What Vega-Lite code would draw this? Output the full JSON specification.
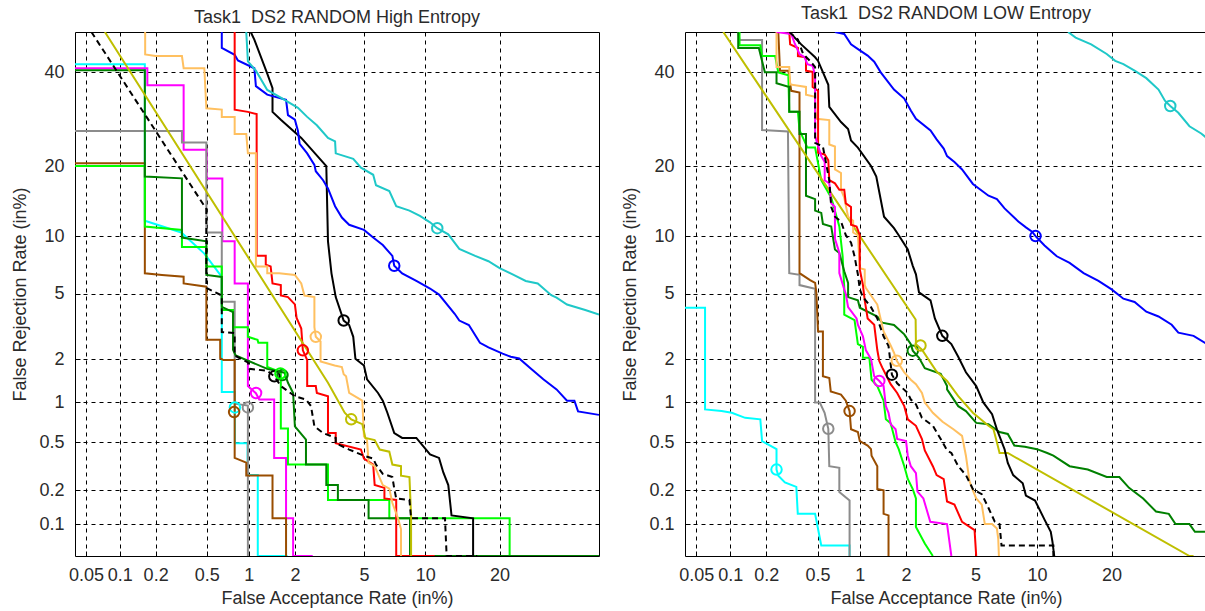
{
"$schema": "https://vega.github.io/schema/vega-lite/v6.json",
"padding": {"left": 11, "top": 4, "right": 0, "bottom": 0},
"spacing": 21,
"config": {
  "view": {"stroke": "black", "strokeWidth": 1},
  "font": "Liberation Sans",
  "axis": {"grid": true, "gridColor": "black", "gridDash": [4, 4], "gridOpacity": 1, "gridWidth": 1, "domain": false, "ticks": true, "tickSize": -5, "tickColor": "black", "tickWidth": 1, "labelFont": "Liberation Sans", "labelFontSize": 18, "labelColor": "#2b2b2b", "titleFont": "Liberation Sans", "titleFontSize": 18, "titleFontWeight": "normal", "titleColor": "#2b2b2b", "labelOverlap": false, "labelFlush": false, "labelBound": false},
  "axisX": {"labelPadding": 15, "titlePadding": 5},
  "axisY": {"labelPadding": 16, "titlePadding": 9},
  "title": {"font": "Liberation Sans", "fontSize": 18, "fontWeight": "normal", "color": "#2b2b2b", "frame": "group"}
},
"datasets": {"d": [
{"p":"L","s":"cyan","x":0.03,"y":42},{"p":"L","s":"cyan","x":0.163,"y":42},{"p":"L","s":"cyan","x":0.163,"y":11.8},{"p":"L","s":"cyan","x":0.32,"y":10.4},{"p":"L","s":"cyan","x":0.48,"y":8.2},{"p":"L","s":"cyan","x":0.645,"y":6.2},{"p":"L","s":"cyan","x":0.645,"y":1.19},{"p":"L","s":"cyan","x":0.8,"y":1.19},{"p":"L","s":"cyan","x":0.8,"y":0.49},{"p":"L","s":"cyan","x":0.98,"y":0.49},{"p":"L","s":"cyan","x":0.98,"y":0.27},{"p":"L","s":"cyan","x":1.15,"y":0.27},{"p":"L","s":"cyan","x":1.15,"y":0.01},{"p":"L","s":"cyan","x":1.8,"y":0.01},
{"p":"L","s":"magenta","x":0.03,"y":41},{"p":"L","s":"magenta","x":0.171,"y":41},{"p":"L","s":"magenta","x":0.171,"y":36.9},{"p":"L","s":"magenta","x":0.334,"y":36.9},{"p":"L","s":"magenta","x":0.334,"y":23},{"p":"L","s":"magenta","x":0.5,"y":23},{"p":"L","s":"magenta","x":0.5,"y":17.9},{"p":"L","s":"magenta","x":0.651,"y":17.9},{"p":"L","s":"magenta","x":0.651,"y":9.43},{"p":"L","s":"magenta","x":0.797,"y":9.43},{"p":"L","s":"magenta","x":0.797,"y":5.72},{"p":"L","s":"magenta","x":0.985,"y":5.72},{"p":"L","s":"magenta","x":0.985,"y":1.31},{"p":"L","s":"magenta","x":1.117,"y":1.165},{"p":"L","s":"magenta","x":1.176,"y":1.05},{"p":"L","s":"magenta","x":1.476,"y":1.05},{"p":"L","s":"magenta","x":1.476,"y":0.374},{"p":"L","s":"magenta","x":1.76,"y":0.374},{"p":"L","s":"magenta","x":1.76,"y":0.113},{"p":"L","s":"magenta","x":1.95,"y":0.113},{"p":"L","s":"magenta","x":1.95,"y":0.01},{"p":"L","s":"magenta","x":2.57,"y":0.01},
{"p":"L","s":"gray","x":0.03,"y":26.7},{"p":"L","s":"gray","x":0.324,"y":26.7},{"p":"L","s":"gray","x":0.324,"y":24.4},{"p":"L","s":"gray","x":0.497,"y":24.4},{"p":"L","s":"gray","x":0.497,"y":10.4},{"p":"L","s":"gray","x":0.645,"y":10.4},{"p":"L","s":"gray","x":0.645,"y":4.52},{"p":"L","s":"gray","x":0.797,"y":4.52},{"p":"L","s":"gray","x":0.797,"y":0.98},{"p":"L","s":"gray","x":0.985,"y":0.95},{"p":"L","s":"gray","x":0.985,"y":0.01},
{"p":"L","s":"brown","x":0.03,"y":20.5},{"p":"L","s":"brown","x":0.163,"y":20.5},{"p":"L","s":"brown","x":0.163,"y":6.48},{"p":"L","s":"brown","x":0.225,"y":6.36},{"p":"L","s":"brown","x":0.334,"y":6.22},{"p":"L","s":"brown","x":0.334,"y":5.72},{"p":"L","s":"brown","x":0.497,"y":5.49},{"p":"L","s":"brown","x":0.497,"y":2.66},{"p":"L","s":"brown","x":0.628,"y":2.66},{"p":"L","s":"brown","x":0.628,"y":2.03},{"p":"L","s":"brown","x":0.662,"y":1.97},{"p":"L","s":"brown","x":0.797,"y":1.97},{"p":"L","s":"brown","x":0.797,"y":0.374},{"p":"L","s":"brown","x":0.96,"y":0.342},{"p":"L","s":"brown","x":0.96,"y":0.267},{"p":"L","s":"brown","x":1.44,"y":0.267},{"p":"L","s":"brown","x":1.44,"y":0.113},{"p":"L","s":"brown","x":1.76,"y":0.113},{"p":"L","s":"brown","x":1.76,"y":0.01},
{"p":"L","s":"green","x":0.03,"y":20},{"p":"L","s":"green","x":0.163,"y":20},{"p":"L","s":"green","x":0.163,"y":11.1},{"p":"L","s":"green","x":0.324,"y":10.7},{"p":"L","s":"green","x":0.324,"y":8.86},{"p":"L","s":"green","x":0.497,"y":8.86},{"p":"L","s":"green","x":0.497,"y":7.05},{"p":"L","s":"green","x":0.645,"y":7.05},{"p":"L","s":"green","x":0.645,"y":4.04},{"p":"L","s":"green","x":0.776,"y":4.04},{"p":"L","s":"green","x":0.776,"y":3.19},{"p":"L","s":"green","x":0.985,"y":3.19},{"p":"L","s":"green","x":0.985,"y":2.78},{"p":"L","s":"green","x":1.146,"y":2.66},{"p":"L","s":"green","x":1.16,"y":2.55},{"p":"L","s":"green","x":1.33,"y":2.55},{"p":"L","s":"green","x":1.33,"y":1.77},{"p":"L","s":"green","x":1.63,"y":1.63},{"p":"L","s":"green","x":1.63,"y":0.64},{"p":"L","s":"green","x":1.81,"y":0.64},{"p":"L","s":"green","x":1.81,"y":0.33},{"p":"L","s":"green","x":3.16,"y":0.33},{"p":"L","s":"green","x":3.16,"y":0.165},{"p":"L","s":"green","x":6.75,"y":0.165},{"p":"L","s":"green","x":6.75,"y":0.113},{"p":"L","s":"green","x":21.7,"y":0.113},{"p":"L","s":"green","x":21.7,"y":0.01},{"p":"L","s":"green","x":40,"y":0.01},
{"p":"L","s":"dkgreen","x":0.03,"y":40.5},{"p":"L","s":"dkgreen","x":0.163,"y":40.5},{"p":"L","s":"dkgreen","x":0.163,"y":18.2},{"p":"L","s":"dkgreen","x":0.324,"y":17.9},{"p":"L","s":"dkgreen","x":0.324,"y":9.84},{"p":"L","s":"dkgreen","x":0.497,"y":9.43},{"p":"L","s":"dkgreen","x":0.497,"y":6.36},{"p":"L","s":"dkgreen","x":0.645,"y":6.2},{"p":"L","s":"dkgreen","x":0.645,"y":4.22},{"p":"L","s":"dkgreen","x":0.776,"y":3.93},{"p":"L","s":"dkgreen","x":0.776,"y":2.3},{"p":"L","s":"dkgreen","x":0.81,"y":2.11},{"p":"L","s":"dkgreen","x":1.33,"y":1.72},{"p":"L","s":"dkgreen","x":1.72,"y":1.62},{"p":"L","s":"dkgreen","x":1.81,"y":1.38},{"p":"L","s":"dkgreen","x":1.95,"y":1.17},{"p":"L","s":"dkgreen","x":2.0,"y":0.663},{"p":"L","s":"dkgreen","x":2.34,"y":0.524},{"p":"L","s":"dkgreen","x":2.34,"y":0.33},{"p":"L","s":"dkgreen","x":3.09,"y":0.33},{"p":"L","s":"dkgreen","x":3.09,"y":0.222},{"p":"L","s":"dkgreen","x":3.6,"y":0.222},{"p":"L","s":"dkgreen","x":3.6,"y":0.165},{"p":"L","s":"dkgreen","x":5.29,"y":0.165},{"p":"L","s":"dkgreen","x":5.29,"y":0.113},{"p":"L","s":"dkgreen","x":8.5,"y":0.113},{"p":"L","s":"dkgreen","x":8.5,"y":0.01},{"p":"L","s":"dkgreen","x":40,"y":0.01},
{"p":"L","s":"dash","x":0.056,"y":50.5},{"p":"L","s":"dash","x":0.497,"y":13.3},{"p":"L","s":"dash","x":0.497,"y":5.4},{"p":"L","s":"dash","x":0.58,"y":5.1},{"p":"L","s":"dash","x":0.645,"y":4.9},{"p":"L","s":"dash","x":0.645,"y":2.98},{"p":"L","s":"dash","x":0.797,"y":2.93},{"p":"L","s":"dash","x":0.797,"y":2.11},{"p":"L","s":"dash","x":0.985,"y":1.9},{"p":"L","s":"dash","x":1.01,"y":1.72},{"p":"L","s":"dash","x":1.33,"y":1.67},{"p":"L","s":"dash","x":1.48,"y":1.53},{"p":"L","s":"dash","x":1.63,"y":1.31},{"p":"L","s":"dash","x":2.0,"y":1.11},{"p":"L","s":"dash","x":2.34,"y":1.05},{"p":"L","s":"dash","x":2.51,"y":0.94},{"p":"L","s":"dash","x":2.63,"y":0.663},{"p":"L","s":"dash","x":2.96,"y":0.59},{"p":"L","s":"dash","x":3.5,"y":0.54},{"p":"L","s":"dash","x":3.5,"y":0.49},{"p":"L","s":"dash","x":4.16,"y":0.437},{"p":"L","s":"dash","x":5.0,"y":0.39},{"p":"L","s":"dash","x":5.59,"y":0.37},{"p":"L","s":"dash","x":5.78,"y":0.33},{"p":"L","s":"dash","x":6.26,"y":0.276},{"p":"L","s":"dash","x":6.99,"y":0.26},{"p":"L","s":"dash","x":7.14,"y":0.207},{"p":"L","s":"dash","x":7.3,"y":0.17},{"p":"L","s":"dash","x":8.45,"y":0.165},{"p":"L","s":"dash","x":8.6,"y":0.113},{"p":"L","s":"dash","x":12.2,"y":0.113},{"p":"L","s":"dash","x":12.4,"y":0.01},{"p":"L","s":"dash","x":16.5,"y":0.01},
{"p":"L","s":"black","x":1.03,"y":50},{"p":"L","s":"black","x":1.09,"y":48.1},{"p":"L","s":"black","x":1.33,"y":39.7},{"p":"L","s":"black","x":1.44,"y":36.2},{"p":"L","s":"black","x":1.44,"y":30.8},{"p":"L","s":"black","x":1.63,"y":29.1},{"p":"L","s":"black","x":2.19,"y":25.3},{"p":"L","s":"black","x":3.09,"y":20},{"p":"L","s":"black","x":3.16,"y":9.43},{"p":"L","s":"black","x":3.31,"y":6.48},{"p":"L","s":"black","x":3.5,"y":4.8},{"p":"L","s":"black","x":3.88,"y":3.5},{"p":"L","s":"black","x":4.16,"y":3.29},{"p":"L","s":"black","x":4.38,"y":2.78},{"p":"L","s":"black","x":4.5,"y":2.01},{"p":"L","s":"black","x":5.0,"y":1.81},{"p":"L","s":"black","x":5.19,"y":1.46},{"p":"L","s":"black","x":5.92,"y":1.17},{"p":"L","s":"black","x":6.26,"y":1.03},{"p":"L","s":"black","x":6.6,"y":0.84},{"p":"L","s":"black","x":7.14,"y":0.59},{"p":"L","s":"black","x":7.8,"y":0.54},{"p":"L","s":"black","x":9.1,"y":0.54},{"p":"L","s":"black","x":10.5,"y":0.4},{"p":"L","s":"black","x":11.5,"y":0.374},{"p":"L","s":"black","x":12.0,"y":0.284},{"p":"L","s":"black","x":12.6,"y":0.222},{"p":"L","s":"black","x":13.0,"y":0.12},{"p":"L","s":"black","x":15.9,"y":0.113},{"p":"L","s":"black","x":15.9,"y":0.01},
{"p":"L","s":"blue","x":0.645,"y":52},{"p":"L","s":"blue","x":0.645,"y":46},{"p":"L","s":"blue","x":0.797,"y":44.3},{"p":"L","s":"blue","x":0.84,"y":42.9},{"p":"L","s":"blue","x":1.09,"y":41},{"p":"L","s":"blue","x":1.117,"y":36.7},{"p":"L","s":"blue","x":1.33,"y":34.7},{"p":"L","s":"blue","x":1.76,"y":33.5},{"p":"L","s":"blue","x":1.81,"y":30.1},{"p":"L","s":"blue","x":2.0,"y":29.1},{"p":"L","s":"blue","x":2.09,"y":26.7},{"p":"L","s":"blue","x":2.14,"y":24.1},{"p":"L","s":"blue","x":2.38,"y":22.3},{"p":"L","s":"blue","x":2.63,"y":20.2},{"p":"L","s":"blue","x":2.68,"y":19.1},{"p":"L","s":"blue","x":2.96,"y":17.6},{"p":"L","s":"blue","x":3.16,"y":16.3},{"p":"L","s":"blue","x":3.47,"y":13.7},{"p":"L","s":"blue","x":3.79,"y":12.2},{"p":"L","s":"blue","x":4.16,"y":11.3},{"p":"L","s":"blue","x":5.0,"y":10.7},{"p":"L","s":"blue","x":5.59,"y":9.84},{"p":"L","s":"blue","x":6.26,"y":9.05},{"p":"L","s":"blue","x":6.99,"y":7.99},{"p":"L","s":"blue","x":7.14,"y":7.11},{"p":"L","s":"blue","x":7.8,"y":6.48},{"p":"L","s":"blue","x":9.1,"y":5.9},{"p":"L","s":"blue","x":10.5,"y":5.36},{"p":"L","s":"blue","x":11.5,"y":4.96},{"p":"L","s":"blue","x":13.4,"y":3.84},{"p":"L","s":"blue","x":14.0,"y":3.5},{"p":"L","s":"blue","x":15.3,"y":3.29},{"p":"L","s":"blue","x":16.9,"y":2.55},{"p":"L","s":"blue","x":18.2,"y":2.38},{"p":"L","s":"blue","x":20.5,"y":2.17},{"p":"L","s":"blue","x":21.9,"y":2.07},{"p":"L","s":"blue","x":23.4,"y":2.02},{"p":"L","s":"blue","x":25.6,"y":1.72},{"p":"L","s":"blue","x":28.0,"y":1.46},{"p":"L","s":"blue","x":30.7,"y":1.24},{"p":"L","s":"blue","x":32.9,"y":1.03},{"p":"L","s":"blue","x":34.5,"y":1.03},{"p":"L","s":"blue","x":35.3,"y":0.86},{"p":"L","s":"blue","x":40,"y":0.81},
{"p":"L","s":"teal","x":0.96,"y":52},{"p":"L","s":"teal","x":0.985,"y":42.7},{"p":"L","s":"teal","x":1.117,"y":40.4},{"p":"L","s":"teal","x":1.33,"y":35.8},{"p":"L","s":"teal","x":1.63,"y":34.0},{"p":"L","s":"teal","x":2.09,"y":31.7},{"p":"L","s":"teal","x":2.38,"y":29.7},{"p":"L","s":"teal","x":2.72,"y":27.9},{"p":"L","s":"teal","x":3.16,"y":25.3},{"p":"L","s":"teal","x":3.47,"y":24.6},{"p":"L","s":"teal","x":3.5,"y":22.3},{"p":"L","s":"teal","x":4.38,"y":21.3},{"p":"L","s":"teal","x":4.82,"y":19.7},{"p":"L","s":"teal","x":5.59,"y":18.5},{"p":"L","s":"teal","x":5.78,"y":16.8},{"p":"L","s":"teal","x":6.75,"y":15.9},{"p":"L","s":"teal","x":7.3,"y":13.7},{"p":"L","s":"teal","x":8.45,"y":13.1},{"p":"L","s":"teal","x":9.45,"y":12.4},{"p":"L","s":"teal","x":10.5,"y":11.6},{"p":"L","s":"teal","x":11.3,"y":10.9},{"p":"L","s":"teal","x":12.6,"y":10.2},{"p":"L","s":"teal","x":14.0,"y":8.66},{"p":"L","s":"teal","x":16.2,"y":7.99},{"p":"L","s":"teal","x":18.2,"y":7.5},{"p":"L","s":"teal","x":20,"y":6.9},{"p":"L","s":"teal","x":22.4,"y":6.36},{"p":"L","s":"teal","x":24.6,"y":5.9},{"p":"L","s":"teal","x":26.9,"y":5.72},{"p":"L","s":"teal","x":29.6,"y":4.92},{"p":"L","s":"teal","x":30.7,"y":4.76},{"p":"L","s":"teal","x":32.9,"y":4.35},{"p":"L","s":"teal","x":36.9,"y":4.04},{"p":"L","s":"teal","x":40,"y":3.8},
{"p":"L","s":"red","x":0.797,"y":52},{"p":"L","s":"red","x":0.797,"y":31.3},{"p":"L","s":"red","x":0.985,"y":30.8},{"p":"L","s":"red","x":1.13,"y":30.3},{"p":"L","s":"red","x":1.13,"y":7.99},{"p":"L","s":"red","x":1.3,"y":7.99},{"p":"L","s":"red","x":1.3,"y":7.2},{"p":"L","s":"red","x":1.4,"y":7.05},{"p":"L","s":"red","x":1.44,"y":5.72},{"p":"L","s":"red","x":1.63,"y":5.6},{"p":"L","s":"red","x":1.63,"y":4.9},{"p":"L","s":"red","x":1.81,"y":4.8},{"p":"L","s":"red","x":2.0,"y":4.36},{"p":"L","s":"red","x":2.05,"y":3.63},{"p":"L","s":"red","x":2.19,"y":3.13},{"p":"L","s":"red","x":2.24,"y":2.28},{"p":"L","s":"red","x":2.38,"y":1.97},{"p":"L","s":"red","x":2.38,"y":1.31},{"p":"L","s":"red","x":2.68,"y":1.31},{"p":"L","s":"red","x":2.72,"y":1.17},{"p":"L","s":"red","x":3.16,"y":1.11},{"p":"L","s":"red","x":3.16,"y":0.59},{"p":"L","s":"red","x":3.5,"y":0.59},{"p":"L","s":"red","x":3.5,"y":0.49},{"p":"L","s":"red","x":4.82,"y":0.437},{"p":"L","s":"red","x":5.0,"y":0.37},{"p":"L","s":"red","x":5.59,"y":0.33},{"p":"L","s":"red","x":5.69,"y":0.222},{"p":"L","s":"red","x":6.38,"y":0.21},{"p":"L","s":"red","x":6.38,"y":0.17},{"p":"L","s":"red","x":7.3,"y":0.165},{"p":"L","s":"red","x":7.3,"y":0.01},{"p":"L","s":"red","x":11,"y":0.01},
{"p":"L","s":"orange","x":0.164,"y":52},{"p":"L","s":"orange","x":0.164,"y":44.4},{"p":"L","s":"orange","x":0.2,"y":44},{"p":"L","s":"orange","x":0.324,"y":44},{"p":"L","s":"orange","x":0.334,"y":41},{"p":"L","s":"orange","x":0.48,"y":41},{"p":"L","s":"orange","x":0.497,"y":31.6},{"p":"L","s":"orange","x":0.645,"y":31.3},{"p":"L","s":"orange","x":0.645,"y":29.7},{"p":"L","s":"orange","x":0.797,"y":29.7},{"p":"L","s":"orange","x":0.797,"y":26.1},{"p":"L","s":"orange","x":0.96,"y":26.1},{"p":"L","s":"orange","x":0.985,"y":22.3},{"p":"L","s":"orange","x":1.117,"y":22.3},{"p":"L","s":"orange","x":1.117,"y":7.05},{"p":"L","s":"orange","x":1.33,"y":7.05},{"p":"L","s":"orange","x":1.33,"y":6.48},{"p":"L","s":"orange","x":1.59,"y":6.48},{"p":"L","s":"orange","x":2.0,"y":6.36},{"p":"L","s":"orange","x":2.19,"y":5.72},{"p":"L","s":"orange","x":2.29,"y":4.9},{"p":"L","s":"orange","x":2.63,"y":4.8},{"p":"L","s":"orange","x":2.63,"y":3.19},{"p":"L","s":"orange","x":2.68,"y":2.78},{"p":"L","s":"orange","x":2.86,"y":2.6},{"p":"L","s":"orange","x":2.86,"y":1.93},{"p":"L","s":"orange","x":3.45,"y":1.81},{"p":"L","s":"orange","x":3.79,"y":1.77},{"p":"L","s":"orange","x":3.88,"y":1.58},{"p":"L","s":"orange","x":4.0,"y":1.53},{"p":"L","s":"orange","x":4.16,"y":1.17},{"p":"L","s":"orange","x":4.9,"y":1.03},{"p":"L","s":"orange","x":5.0,"y":0.555},{"p":"L","s":"orange","x":5.19,"y":0.52},{"p":"L","s":"orange","x":5.29,"y":0.342},{"p":"L","s":"orange","x":5.69,"y":0.32},{"p":"L","s":"orange","x":6.26,"y":0.222},{"p":"L","s":"orange","x":6.75,"y":0.207},{"p":"L","s":"orange","x":6.99,"y":0.155},{"p":"L","s":"orange","x":7.45,"y":0.113},{"p":"L","s":"orange","x":7.7,"y":0.09},{"p":"L","s":"orange","x":7.7,"y":0.01},
{"p":"L","s":"olive","x":0.074,"y":50},{"p":"L","s":"olive","x":3.16,"y":1.38},{"p":"L","s":"olive","x":3.93,"y":0.84},{"p":"L","s":"olive","x":4.27,"y":0.75},{"p":"L","s":"olive","x":4.9,"y":0.69},{"p":"L","s":"olive","x":5.09,"y":0.54},{"p":"L","s":"olive","x":5.69,"y":0.52},{"p":"L","s":"olive","x":6.04,"y":0.437},{"p":"L","s":"olive","x":6.75,"y":0.42},{"p":"L","s":"olive","x":6.99,"y":0.33},{"p":"L","s":"olive","x":7.7,"y":0.32},{"p":"L","s":"olive","x":7.7,"y":0.267},{"p":"L","s":"olive","x":8.45,"y":0.26},{"p":"L","s":"olive","x":8.6,"y":0.12},{"p":"L","s":"olive","x":8.6,"y":0.01},
{"p":"L","s":"cyan","x":0.8,"y":0.92,"m":1},{"p":"L","s":"gray","x":0.985,"y":0.92,"m":1},{"p":"L","s":"brown","x":0.79,"y":0.85,"m":1},{"p":"L","s":"magenta","x":1.12,"y":1.17,"m":1},{"p":"L","s":"dash","x":1.48,"y":1.53,"m":1},{"p":"L","s":"dkgreen","x":1.67,"y":1.56,"m":1},{"p":"L","s":"green","x":1.62,"y":1.6,"m":1},{"p":"L","s":"red","x":2.24,"y":2.28,"m":1},{"p":"L","s":"orange","x":2.68,"y":2.78,"m":1},{"p":"L","s":"black","x":3.88,"y":3.5,"m":1},{"p":"L","s":"olive","x":4.27,"y":0.75,"m":1},{"p":"L","s":"blue","x":7.14,"y":7.11,"m":1},{"p":"L","s":"teal","x":11.3,"y":10.9,"m":1},
{"p":"R","s":"cyan","x":0.03,"y":4.17},{"p":"R","s":"cyan","x":0.06,"y":4.17},{"p":"R","s":"cyan","x":0.06,"y":0.89},{"p":"R","s":"cyan","x":0.084,"y":0.865},{"p":"R","s":"cyan","x":0.103,"y":0.84},{"p":"R","s":"cyan","x":0.134,"y":0.77},{"p":"R","s":"cyan","x":0.179,"y":0.75},{"p":"R","s":"cyan","x":0.185,"y":0.51},{"p":"R","s":"cyan","x":0.242,"y":0.44},{"p":"R","s":"cyan","x":0.242,"y":0.3},{"p":"R","s":"cyan","x":0.25,"y":0.267},{"p":"R","s":"cyan","x":0.282,"y":0.234},{"p":"R","s":"cyan","x":0.346,"y":0.214},{"p":"R","s":"cyan","x":0.355,"y":0.124},{"p":"R","s":"cyan","x":0.48,"y":0.124},{"p":"R","s":"cyan","x":0.533,"y":0.063},{"p":"R","s":"cyan","x":0.85,"y":0.063},{"p":"R","s":"cyan","x":0.85,"y":0.01},
{"p":"R","s":"gray","x":0.117,"y":52},{"p":"R","s":"gray","x":0.12,"y":48},{"p":"R","s":"gray","x":0.185,"y":48},{"p":"R","s":"gray","x":0.185,"y":26.9},{"p":"R","s":"gray","x":0.298,"y":26.6},{"p":"R","s":"gray","x":0.305,"y":6.5},{"p":"R","s":"gray","x":0.366,"y":6.36},{"p":"R","s":"gray","x":0.366,"y":5.6},{"p":"R","s":"gray","x":0.48,"y":5.35},{"p":"R","s":"gray","x":0.48,"y":1.0},{"p":"R","s":"gray","x":0.52,"y":1.0},{"p":"R","s":"gray","x":0.564,"y":0.84},{"p":"R","s":"gray","x":0.6,"y":0.636},{"p":"R","s":"gray","x":0.61,"y":0.32},{"p":"R","s":"gray","x":0.72,"y":0.31},{"p":"R","s":"gray","x":0.72,"y":0.193},{"p":"R","s":"gray","x":0.85,"y":0.163},{"p":"R","s":"gray","x":0.85,"y":0.01},
{"p":"R","s":"brown","x":0.25,"y":52},{"p":"R","s":"brown","x":0.258,"y":40.4},{"p":"R","s":"brown","x":0.3,"y":40.4},{"p":"R","s":"brown","x":0.316,"y":35.6},{"p":"R","s":"brown","x":0.366,"y":35.2},{"p":"R","s":"brown","x":0.366,"y":6.5},{"p":"R","s":"brown","x":0.44,"y":5.96},{"p":"R","s":"brown","x":0.48,"y":5.75},{"p":"R","s":"brown","x":0.49,"y":5.1},{"p":"R","s":"brown","x":0.505,"y":3.0},{"p":"R","s":"brown","x":0.548,"y":3.0},{"p":"R","s":"brown","x":0.548,"y":1.53},{"p":"R","s":"brown","x":0.61,"y":1.49},{"p":"R","s":"brown","x":0.625,"y":1.2},{"p":"R","s":"brown","x":0.74,"y":1.14},{"p":"R","s":"brown","x":0.8,"y":1.03},{"p":"R","s":"brown","x":0.85,"y":0.865},{"p":"R","s":"brown","x":0.87,"y":0.63},{"p":"R","s":"brown","x":0.97,"y":0.6},{"p":"R","s":"brown","x":1.0,"y":0.51},{"p":"R","s":"brown","x":1.13,"y":0.47},{"p":"R","s":"brown","x":1.19,"y":0.44},{"p":"R","s":"brown","x":1.2,"y":0.39},{"p":"R","s":"brown","x":1.31,"y":0.32},{"p":"R","s":"brown","x":1.31,"y":0.205},{"p":"R","s":"brown","x":1.44,"y":0.2},{"p":"R","s":"brown","x":1.44,"y":0.124},{"p":"R","s":"brown","x":1.55,"y":0.12},{"p":"R","s":"brown","x":1.55,"y":0.01},
{"p":"R","s":"green","x":0.12,"y":52},{"p":"R","s":"green","x":0.12,"y":46.7},{"p":"R","s":"green","x":0.179,"y":46.7},{"p":"R","s":"green","x":0.185,"y":44},{"p":"R","s":"green","x":0.236,"y":44},{"p":"R","s":"green","x":0.25,"y":40},{"p":"R","s":"green","x":0.3,"y":39.3},{"p":"R","s":"green","x":0.305,"y":30.8},{"p":"R","s":"green","x":0.356,"y":30.8},{"p":"R","s":"green","x":0.366,"y":26.9},{"p":"R","s":"green","x":0.42,"y":23.4},{"p":"R","s":"green","x":0.48,"y":23.4},{"p":"R","s":"green","x":0.533,"y":17.6},{"p":"R","s":"green","x":0.63,"y":14.9},{"p":"R","s":"green","x":0.72,"y":11.1},{"p":"R","s":"green","x":0.76,"y":7.95},{"p":"R","s":"green","x":0.78,"y":5.4},{"p":"R","s":"green","x":0.78,"y":3.8},{"p":"R","s":"green","x":0.92,"y":3.52},{"p":"R","s":"green","x":0.97,"y":2.5},{"p":"R","s":"green","x":1.05,"y":2.4},{"p":"R","s":"green","x":1.05,"y":2.04},{"p":"R","s":"green","x":1.16,"y":2.04},{"p":"R","s":"green","x":1.2,"y":1.45},{"p":"R","s":"green","x":1.31,"y":1.31},{"p":"R","s":"green","x":1.44,"y":1.03},{"p":"R","s":"green","x":1.49,"y":0.75},{"p":"R","s":"green","x":1.6,"y":0.7},{"p":"R","s":"green","x":1.72,"y":0.5},{"p":"R","s":"green","x":1.8,"y":0.44},{"p":"R","s":"green","x":1.95,"y":0.32},{"p":"R","s":"green","x":2.05,"y":0.25},{"p":"R","s":"green","x":2.2,"y":0.205},{"p":"R","s":"green","x":2.3,"y":0.17},{"p":"R","s":"green","x":2.3,"y":0.094},{"p":"R","s":"green","x":2.6,"y":0.066},{"p":"R","s":"green","x":2.9,"y":0.01},
{"p":"R","s":"dkgreen","x":0.117,"y":52},{"p":"R","s":"dkgreen","x":0.117,"y":46},{"p":"R","s":"dkgreen","x":0.174,"y":46},{"p":"R","s":"dkgreen","x":0.195,"y":40},{"p":"R","s":"dkgreen","x":0.242,"y":40},{"p":"R","s":"dkgreen","x":0.242,"y":37.4},{"p":"R","s":"dkgreen","x":0.305,"y":36.5},{"p":"R","s":"dkgreen","x":0.305,"y":30.8},{"p":"R","s":"dkgreen","x":0.366,"y":30.8},{"p":"R","s":"dkgreen","x":0.366,"y":26.1},{"p":"R","s":"dkgreen","x":0.41,"y":26.1},{"p":"R","s":"dkgreen","x":0.41,"y":15.2},{"p":"R","s":"dkgreen","x":0.48,"y":14.7},{"p":"R","s":"dkgreen","x":0.48,"y":13.1},{"p":"R","s":"dkgreen","x":0.533,"y":12.8},{"p":"R","s":"dkgreen","x":0.548,"y":11.4},{"p":"R","s":"dkgreen","x":0.63,"y":11.1},{"p":"R","s":"dkgreen","x":0.67,"y":8.6},{"p":"R","s":"dkgreen","x":0.72,"y":8.26},{"p":"R","s":"dkgreen","x":0.78,"y":6.65},{"p":"R","s":"dkgreen","x":0.83,"y":5.75},{"p":"R","s":"dkgreen","x":0.83,"y":4.8},{"p":"R","s":"dkgreen","x":0.97,"y":4.6},{"p":"R","s":"dkgreen","x":1.0,"y":4.17},{"p":"R","s":"dkgreen","x":1.31,"y":3.7},{"p":"R","s":"dkgreen","x":1.41,"y":3.4},{"p":"R","s":"dkgreen","x":1.68,"y":3.29},{"p":"R","s":"dkgreen","x":1.95,"y":2.88},{"p":"R","s":"dkgreen","x":2.14,"y":2.5},{"p":"R","s":"dkgreen","x":2.2,"y":2.27},{"p":"R","s":"dkgreen","x":2.4,"y":2.04},{"p":"R","s":"dkgreen","x":2.6,"y":1.74},{"p":"R","s":"dkgreen","x":3.22,"y":1.59},{"p":"R","s":"dkgreen","x":3.5,"y":1.31},{"p":"R","s":"dkgreen","x":3.5,"y":1.24},{"p":"R","s":"dkgreen","x":4.04,"y":0.94},{"p":"R","s":"dkgreen","x":4.45,"y":0.865},{"p":"R","s":"dkgreen","x":5.05,"y":0.705},{"p":"R","s":"dkgreen","x":5.85,"y":0.69},{"p":"R","s":"dkgreen","x":6.65,"y":0.6},{"p":"R","s":"dkgreen","x":7.3,"y":0.58},{"p":"R","s":"dkgreen","x":7.85,"y":0.47},{"p":"R","s":"dkgreen","x":8.8,"y":0.46},{"p":"R","s":"dkgreen","x":10,"y":0.44},{"p":"R","s":"dkgreen","x":11.1,"y":0.41},{"p":"R","s":"dkgreen","x":11.8,"y":0.39},{"p":"R","s":"dkgreen","x":13.8,"y":0.32},{"p":"R","s":"dkgreen","x":16.3,"y":0.3},{"p":"R","s":"dkgreen","x":19.2,"y":0.26},{"p":"R","s":"dkgreen","x":21.3,"y":0.26},{"p":"R","s":"dkgreen","x":23.0,"y":0.21},{"p":"R","s":"dkgreen","x":25.6,"y":0.17},{"p":"R","s":"dkgreen","x":28.1,"y":0.13},{"p":"R","s":"dkgreen","x":30.7,"y":0.124},{"p":"R","s":"dkgreen","x":32.1,"y":0.1},{"p":"R","s":"dkgreen","x":35.1,"y":0.1},{"p":"R","s":"dkgreen","x":36.3,"y":0.085},{"p":"R","s":"dkgreen","x":40,"y":0.085},
{"p":"R","s":"olive","x":0.087,"y":50},{"p":"R","s":"olive","x":2.29,"y":3.55},{"p":"R","s":"olive","x":2.3,"y":2.5},{"p":"R","s":"olive","x":2.5,"y":2.3},{"p":"R","s":"olive","x":3.05,"y":1.65},{"p":"R","s":"olive","x":3.5,"y":1.42},{"p":"R","s":"olive","x":4.04,"y":1.11},{"p":"R","s":"olive","x":4.85,"y":0.84},{"p":"R","s":"olive","x":5.85,"y":0.67},{"p":"R","s":"olive","x":6.2,"y":0.63},{"p":"R","s":"olive","x":6.45,"y":0.5},{"p":"R","s":"olive","x":6.65,"y":0.41},{"p":"R","s":"olive","x":7.3,"y":0.41},{"p":"R","s":"olive","x":35.1,"y":0.05},{"p":"R","s":"olive","x":36,"y":0.045},
{"p":"R","s":"black","x":0.305,"y":50},{"p":"R","s":"black","x":0.377,"y":46.9},{"p":"R","s":"black","x":0.48,"y":43.7},{"p":"R","s":"black","x":0.505,"y":42.8},{"p":"R","s":"black","x":0.6,"y":37},{"p":"R","s":"black","x":0.61,"y":31.9},{"p":"R","s":"black","x":0.74,"y":28.6},{"p":"R","s":"black","x":0.83,"y":27.1},{"p":"R","s":"black","x":0.87,"y":24.8},{"p":"R","s":"black","x":0.97,"y":23.4},{"p":"R","s":"black","x":1.19,"y":20},{"p":"R","s":"black","x":1.29,"y":18.2},{"p":"R","s":"black","x":1.45,"y":12.3},{"p":"R","s":"black","x":1.68,"y":10.9},{"p":"R","s":"black","x":1.8,"y":10.1},{"p":"R","s":"black","x":2.05,"y":8.6},{"p":"R","s":"black","x":2.2,"y":7.1},{"p":"R","s":"black","x":2.3,"y":6.4},{"p":"R","s":"black","x":2.4,"y":5.1},{"p":"R","s":"black","x":2.81,"y":4.6},{"p":"R","s":"black","x":2.98,"y":3.6},{"p":"R","s":"black","x":3.29,"y":2.82},{"p":"R","s":"black","x":3.7,"y":2.5},{"p":"R","s":"black","x":4.04,"y":2.07},{"p":"R","s":"black","x":4.45,"y":1.63},{"p":"R","s":"black","x":5.05,"y":1.31},{"p":"R","s":"black","x":5.5,"y":1.0},{"p":"R","s":"black","x":6.1,"y":0.82},{"p":"R","s":"black","x":6.45,"y":0.63},{"p":"R","s":"black","x":7.04,"y":0.44},{"p":"R","s":"black","x":7.3,"y":0.34},{"p":"R","s":"black","x":7.75,"y":0.27},{"p":"R","s":"black","x":8.6,"y":0.23},{"p":"R","s":"black","x":8.9,"y":0.18},{"p":"R","s":"black","x":9.8,"y":0.163},{"p":"R","s":"black","x":10.8,"y":0.11},{"p":"R","s":"black","x":11.5,"y":0.085},{"p":"R","s":"black","x":11.7,"y":0.068},{"p":"R","s":"black","x":11.9,"y":0.01},
{"p":"R","s":"blue","x":0.67,"y":50},{"p":"R","s":"blue","x":0.78,"y":49.5},{"p":"R","s":"blue","x":0.87,"y":46.9},{"p":"R","s":"blue","x":1.0,"y":45.4},{"p":"R","s":"blue","x":1.13,"y":44.1},{"p":"R","s":"blue","x":1.25,"y":42.6},{"p":"R","s":"blue","x":1.38,"y":40},{"p":"R","s":"blue","x":1.68,"y":35.9},{"p":"R","s":"blue","x":1.95,"y":33.8},{"p":"R","s":"blue","x":2.14,"y":31.1},{"p":"R","s":"blue","x":2.3,"y":29.3},{"p":"R","s":"blue","x":2.81,"y":26.8},{"p":"R","s":"blue","x":3.05,"y":25.0},{"p":"R","s":"blue","x":3.35,"y":23.2},{"p":"R","s":"blue","x":3.5,"y":21.8},{"p":"R","s":"blue","x":3.85,"y":20.7},{"p":"R","s":"blue","x":4.24,"y":19.4},{"p":"R","s":"blue","x":4.85,"y":17.0},{"p":"R","s":"blue","x":5.85,"y":15.2},{"p":"R","s":"blue","x":6.45,"y":14.7},{"p":"R","s":"blue","x":7.04,"y":13.4},{"p":"R","s":"blue","x":8.2,"y":11.7},{"p":"R","s":"blue","x":8.9,"y":11.0},{"p":"R","s":"blue","x":9.5,"y":10.5},{"p":"R","s":"blue","x":9.85,"y":10},{"p":"R","s":"blue","x":10.8,"y":9.0},{"p":"R","s":"blue","x":12.2,"y":7.95},{"p":"R","s":"blue","x":13.8,"y":7.35},{"p":"R","s":"blue","x":15.7,"y":6.5},{"p":"R","s":"blue","x":17.9,"y":5.9},{"p":"R","s":"blue","x":20,"y":5.3},{"p":"R","s":"blue","x":22.0,"y":4.7},{"p":"R","s":"blue","x":24.0,"y":4.5},{"p":"R","s":"blue","x":26.2,"y":3.95},{"p":"R","s":"blue","x":28.6,"y":3.7},{"p":"R","s":"blue","x":31.3,"y":3.3},{"p":"R","s":"blue","x":32.7,"y":2.95},{"p":"R","s":"blue","x":36.0,"y":2.82},{"p":"R","s":"blue","x":40,"y":2.4},
{"p":"R","s":"teal","x":13.6,"y":50},{"p":"R","s":"teal","x":14.6,"y":48.6},{"p":"R","s":"teal","x":16.8,"y":46.9},{"p":"R","s":"teal","x":19.2,"y":44.5},{"p":"R","s":"teal","x":20.6,"y":42.8},{"p":"R","s":"teal","x":22.0,"y":42.0},{"p":"R","s":"teal","x":24.0,"y":40.4},{"p":"R","s":"teal","x":26.2,"y":38.6},{"p":"R","s":"teal","x":28.6,"y":35.9},{"p":"R","s":"teal","x":29.9,"y":33.3},{"p":"R","s":"teal","x":31.0,"y":32.1},{"p":"R","s":"teal","x":32.7,"y":30.6},{"p":"R","s":"teal","x":35.1,"y":27.7},{"p":"R","s":"teal","x":37.7,"y":26.2},{"p":"R","s":"teal","x":40,"y":24.5},
{"p":"R","s":"orange","x":0.242,"y":50},{"p":"R","s":"orange","x":0.242,"y":41.3},{"p":"R","s":"orange","x":0.305,"y":41.3},{"p":"R","s":"orange","x":0.31,"y":37.1},{"p":"R","s":"orange","x":0.41,"y":36.5},{"p":"R","s":"orange","x":0.41,"y":34.7},{"p":"R","s":"orange","x":0.48,"y":34.2},{"p":"R","s":"orange","x":0.48,"y":32.2},{"p":"R","s":"orange","x":0.49,"y":29.3},{"p":"R","s":"orange","x":0.61,"y":29.0},{"p":"R","s":"orange","x":0.61,"y":24.0},{"p":"R","s":"orange","x":0.67,"y":23.6},{"p":"R","s":"orange","x":0.67,"y":19.4},{"p":"R","s":"orange","x":0.74,"y":18.8},{"p":"R","s":"orange","x":0.74,"y":16.1},{"p":"R","s":"orange","x":0.78,"y":14.9},{"p":"R","s":"orange","x":0.83,"y":12.3},{"p":"R","s":"orange","x":0.9,"y":11.8},{"p":"R","s":"orange","x":0.9,"y":10.4},{"p":"R","s":"orange","x":0.97,"y":10.1},{"p":"R","s":"orange","x":1.0,"y":6.9},{"p":"R","s":"orange","x":1.08,"y":6.8},{"p":"R","s":"orange","x":1.08,"y":5.6},{"p":"R","s":"orange","x":1.1,"y":5.4},{"p":"R","s":"orange","x":1.31,"y":4.35},{"p":"R","s":"orange","x":1.44,"y":3.0},{"p":"R","s":"orange","x":1.6,"y":2.45},{"p":"R","s":"orange","x":1.68,"y":2.2},{"p":"R","s":"orange","x":1.75,"y":1.95},{"p":"R","s":"orange","x":1.95,"y":1.63},{"p":"R","s":"orange","x":2.14,"y":1.45},{"p":"R","s":"orange","x":2.3,"y":1.35},{"p":"R","s":"orange","x":2.5,"y":1.17},{"p":"R","s":"orange","x":2.6,"y":1.0},{"p":"R","s":"orange","x":2.9,"y":0.84},{"p":"R","s":"orange","x":3.3,"y":0.72},{"p":"R","s":"orange","x":3.8,"y":0.63},{"p":"R","s":"orange","x":4.24,"y":0.56},{"p":"R","s":"orange","x":4.45,"y":0.39},{"p":"R","s":"orange","x":4.65,"y":0.24},{"p":"R","s":"orange","x":4.85,"y":0.2},{"p":"R","s":"orange","x":5.05,"y":0.17},{"p":"R","s":"orange","x":5.4,"y":0.15},{"p":"R","s":"orange","x":5.6,"y":0.1},{"p":"R","s":"orange","x":6.1,"y":0.1},{"p":"R","s":"orange","x":6.45,"y":0.091},{"p":"R","s":"orange","x":6.55,"y":0.073},{"p":"R","s":"orange","x":6.6,"y":0.01},
{"p":"R","s":"red","x":0.305,"y":50},{"p":"R","s":"red","x":0.31,"y":46.9},{"p":"R","s":"red","x":0.356,"y":46.0},{"p":"R","s":"red","x":0.356,"y":44.0},{"p":"R","s":"red","x":0.41,"y":43.7},{"p":"R","s":"red","x":0.41,"y":40.4},{"p":"R","s":"red","x":0.46,"y":40.1},{"p":"R","s":"red","x":0.46,"y":36.5},{"p":"R","s":"red","x":0.505,"y":35.6},{"p":"R","s":"red","x":0.505,"y":22.4},{"p":"R","s":"red","x":0.565,"y":22.1},{"p":"R","s":"red","x":0.6,"y":21.0},{"p":"R","s":"red","x":0.61,"y":17.6},{"p":"R","s":"red","x":0.67,"y":17.1},{"p":"R","s":"red","x":0.72,"y":16.1},{"p":"R","s":"red","x":0.78,"y":16.1},{"p":"R","s":"red","x":0.8,"y":14.1},{"p":"R","s":"red","x":0.87,"y":13.6},{"p":"R","s":"red","x":0.87,"y":11.3},{"p":"R","s":"red","x":0.95,"y":11.1},{"p":"R","s":"red","x":1.0,"y":10.1},{"p":"R","s":"red","x":1.0,"y":6.8},{"p":"R","s":"red","x":1.05,"y":5.6},{"p":"R","s":"red","x":1.08,"y":4.6},{"p":"R","s":"red","x":1.13,"y":3.6},{"p":"R","s":"red","x":1.25,"y":3.3},{"p":"R","s":"red","x":1.31,"y":2.29},{"p":"R","s":"red","x":1.35,"y":1.94},{"p":"R","s":"red","x":1.41,"y":1.76},{"p":"R","s":"red","x":1.6,"y":1.35},{"p":"R","s":"red","x":1.76,"y":1.17},{"p":"R","s":"red","x":1.95,"y":0.94},{"p":"R","s":"red","x":2.05,"y":0.75},{"p":"R","s":"red","x":2.3,"y":0.67},{"p":"R","s":"red","x":2.5,"y":0.53},{"p":"R","s":"red","x":2.6,"y":0.43},{"p":"R","s":"red","x":2.9,"y":0.32},{"p":"R","s":"red","x":3.05,"y":0.27},{"p":"R","s":"red","x":3.35,"y":0.25},{"p":"R","s":"red","x":3.5,"y":0.16},{"p":"R","s":"red","x":3.85,"y":0.15},{"p":"R","s":"red","x":4.24,"y":0.105},{"p":"R","s":"red","x":4.95,"y":0.088},{"p":"R","s":"red","x":5.05,"y":0.01},
{"p":"R","s":"magenta","x":0.242,"y":50},{"p":"R","s":"magenta","x":0.316,"y":49.5},{"p":"R","s":"magenta","x":0.335,"y":47.3},{"p":"R","s":"magenta","x":0.366,"y":44.5},{"p":"R","s":"magenta","x":0.4,"y":43.7},{"p":"R","s":"magenta","x":0.42,"y":42.0},{"p":"R","s":"magenta","x":0.46,"y":41.6},{"p":"R","s":"magenta","x":0.48,"y":39.2},{"p":"R","s":"magenta","x":0.48,"y":25.6},{"p":"R","s":"magenta","x":0.533,"y":21.8},{"p":"R","s":"magenta","x":0.565,"y":20.7},{"p":"R","s":"magenta","x":0.565,"y":17.6},{"p":"R","s":"magenta","x":0.61,"y":17.1},{"p":"R","s":"magenta","x":0.63,"y":14.1},{"p":"R","s":"magenta","x":0.67,"y":13.6},{"p":"R","s":"magenta","x":0.67,"y":9.7},{"p":"R","s":"magenta","x":0.72,"y":8.3},{"p":"R","s":"magenta","x":0.72,"y":6.5},{"p":"R","s":"magenta","x":0.78,"y":5.3},{"p":"R","s":"magenta","x":0.8,"y":5.0},{"p":"R","s":"magenta","x":0.83,"y":4.2},{"p":"R","s":"magenta","x":0.95,"y":3.6},{"p":"R","s":"magenta","x":0.97,"y":3.3},{"p":"R","s":"magenta","x":1.05,"y":2.8},{"p":"R","s":"magenta","x":1.1,"y":2.28},{"p":"R","s":"magenta","x":1.19,"y":2.0},{"p":"R","s":"magenta","x":1.25,"y":1.53},{"p":"R","s":"magenta","x":1.35,"y":1.42},{"p":"R","s":"magenta","x":1.44,"y":1.31},{"p":"R","s":"magenta","x":1.49,"y":0.94},{"p":"R","s":"magenta","x":1.55,"y":0.84},{"p":"R","s":"magenta","x":1.6,"y":0.69},{"p":"R","s":"magenta","x":1.72,"y":0.63},{"p":"R","s":"magenta","x":1.76,"y":0.53},{"p":"R","s":"magenta","x":2.0,"y":0.51},{"p":"R","s":"magenta","x":2.05,"y":0.39},{"p":"R","s":"magenta","x":2.14,"y":0.32},{"p":"R","s":"magenta","x":2.3,"y":0.28},{"p":"R","s":"magenta","x":2.35,"y":0.195},{"p":"R","s":"magenta","x":2.55,"y":0.17},{"p":"R","s":"magenta","x":2.8,"y":0.105},{"p":"R","s":"magenta","x":3.5,"y":0.1},{"p":"R","s":"magenta","x":3.7,"y":0.01},
{"p":"R","s":"dash","x":0.305,"y":50},{"p":"R","s":"dash","x":0.356,"y":48.1},{"p":"R","s":"dash","x":0.39,"y":44.5},{"p":"R","s":"dash","x":0.44,"y":42.8},{"p":"R","s":"dash","x":0.48,"y":41.3},{"p":"R","s":"dash","x":0.48,"y":24.3},{"p":"R","s":"dash","x":0.548,"y":23.6},{"p":"R","s":"dash","x":0.565,"y":21.8},{"p":"R","s":"dash","x":0.61,"y":17.6},{"p":"R","s":"dash","x":0.63,"y":13.6},{"p":"R","s":"dash","x":0.67,"y":12.3},{"p":"R","s":"dash","x":0.74,"y":11.7},{"p":"R","s":"dash","x":0.8,"y":10.1},{"p":"R","s":"dash","x":0.87,"y":9.3},{"p":"R","s":"dash","x":0.92,"y":7.95},{"p":"R","s":"dash","x":0.97,"y":6.4},{"p":"R","s":"dash","x":1.0,"y":5.3},{"p":"R","s":"dash","x":1.05,"y":4.8},{"p":"R","s":"dash","x":1.19,"y":4.2},{"p":"R","s":"dash","x":1.31,"y":3.6},{"p":"R","s":"dash","x":1.44,"y":2.8},{"p":"R","s":"dash","x":1.55,"y":2.43},{"p":"R","s":"dash","x":1.63,"y":1.57},{"p":"R","s":"dash","x":1.76,"y":1.37},{"p":"R","s":"dash","x":2.05,"y":1.17},{"p":"R","s":"dash","x":2.14,"y":1.05},{"p":"R","s":"dash","x":2.3,"y":0.97},{"p":"R","s":"dash","x":2.5,"y":0.77},{"p":"R","s":"dash","x":2.9,"y":0.67},{"p":"R","s":"dash","x":3.22,"y":0.53},{"p":"R","s":"dash","x":3.5,"y":0.43},{"p":"R","s":"dash","x":3.7,"y":0.41},{"p":"R","s":"dash","x":4.04,"y":0.32},{"p":"R","s":"dash","x":4.45,"y":0.27},{"p":"R","s":"dash","x":4.85,"y":0.205},{"p":"R","s":"dash","x":5.4,"y":0.185},{"p":"R","s":"dash","x":5.85,"y":0.14},{"p":"R","s":"dash","x":6.3,"y":0.105},{"p":"R","s":"dash","x":6.65,"y":0.1},{"p":"R","s":"dash","x":6.8,"y":0.063},{"p":"R","s":"dash","x":11.8,"y":0.063},{"p":"R","s":"dash","x":11.8,"y":0.01},
{"p":"R","s":"cyan","x":0.242,"y":0.3,"m":1},{"p":"R","s":"gray","x":0.6,"y":0.636,"m":1},{"p":"R","s":"brown","x":0.85,"y":0.865,"m":1},{"p":"R","s":"magenta","x":1.35,"y":1.42,"m":1},{"p":"R","s":"dash","x":1.63,"y":1.57,"m":1},{"p":"R","s":"orange","x":1.75,"y":1.95,"m":1},{"p":"R","s":"dkgreen","x":2.2,"y":2.27,"m":1},{"p":"R","s":"olive","x":2.45,"y":2.45,"m":1},{"p":"R","s":"black","x":3.29,"y":2.82,"m":1},{"p":"R","s":"blue","x":9.85,"y":10,"m":1},{"p":"R","s":"teal","x":31.0,"y":32.1,"m":1}
]},
"hconcat": [
{
  "title": {"text": "Task1\u00a0 DS2 RANDOM High Entropy", "offset": 5},
  "width": 524, "height": 524,
  "data": {"name": "d"},
  "transform": [
    {"filter": "datum.p == 'L'"},
    {"calculate": "quantileNormal(datum.x / 100)", "as": "zx"},
    {"calculate": "quantileNormal(datum.y / 100)", "as": "zy"}
  ],
  "encoding": {
    "x": {"field": "zx", "type": "quantitative", "scale": {"domain": [-3.3556, -0.2532], "zero": false, "nice": false}, "axis": {"title": "False Acceptance Rate (in%)", "values": [-3.2905, -3.0902, -2.8782, -2.5758, -2.3263, -2.0537, -1.6449, -1.2816, -0.8416], "labelExpr": "format(cumulativeNormal(datum.value) * 100, '.1~r')"}},
    "y": {"field": "zy", "type": "quantitative", "scale": {"domain": [-3.2905, 0], "zero": false, "nice": false, "clamp": true}, "axis": {"title": "False Rejection Rate (in%)", "values": [-3.0902, -2.8782, -2.5758, -2.3263, -2.0537, -1.6449, -1.2816, -0.8416, -0.2533], "labelExpr": "format(cumulativeNormal(datum.value) * 100, '.1~r')"}},
    "color": {"field": "s", "type": "nominal", "legend": null, "scale": {"domain": ["cyan","teal","blue","black","dash","red","orange","olive","magenta","green","dkgreen","brown","gray"], "range": ["#00FFFF","#1FC8C8","#0000FF","#000000","#000000","#FF0000","#FFC060","#BFBF00","#FF00FF","#00FF00","#008000","#994D00","#8C8C8C"]}}
  },
  "layer": [
    {"transform": [{"filter": "!datum.m && datum.s != 'dash'"}], "mark": {"type": "line", "strokeWidth": 2, "clip": true}, "encoding": {"order": {"value": null}}},
    {"transform": [{"filter": "!datum.m && datum.s == 'dash'"}], "mark": {"type": "line", "strokeWidth": 2, "strokeDash": [6, 4], "clip": true}, "encoding": {"order": {"value": null}}},
    {"transform": [{"filter": "datum.m == 1"}], "mark": {"type": "point", "shape": "circle", "filled": false, "size": 110, "strokeWidth": 2, "opacity": 1, "clip": true}}
  ]
},
{
  "title": {"text": "Task1\u00a0 DS2 RANDOM LOW Entropy", "offset": 9},
  "width": 522, "height": 524,
  "data": {"name": "d"},
  "transform": [
    {"filter": "datum.p == 'R'"},
    {"calculate": "quantileNormal(datum.x / 100)", "as": "zx"},
    {"calculate": "quantileNormal(datum.y / 100)", "as": "zy"}
  ],
  "encoding": {
    "x": {"field": "zx", "type": "quantitative", "scale": {"domain": [-3.3571, -0.2792], "zero": false, "nice": false}, "axis": {"title": "False Acceptance Rate (in%)", "values": [-3.2905, -3.0902, -2.8782, -2.5758, -2.3263, -2.0537, -1.6449, -1.2816, -0.8416], "labelExpr": "format(cumulativeNormal(datum.value) * 100, '.1~r')"}},
    "y": {"field": "zy", "type": "quantitative", "scale": {"domain": [-3.2905, 0], "zero": false, "nice": false, "clamp": true}, "axis": {"title": "False Rejection Rate (in%)", "values": [-3.0902, -2.8782, -2.5758, -2.3263, -2.0537, -1.6449, -1.2816, -0.8416, -0.2533], "labelExpr": "format(cumulativeNormal(datum.value) * 100, '.1~r')"}},
    "color": {"field": "s", "type": "nominal", "legend": null, "scale": {"domain": ["cyan","teal","blue","black","dash","red","orange","olive","magenta","green","dkgreen","brown","gray"], "range": ["#00FFFF","#1FC8C8","#0000FF","#000000","#000000","#FF0000","#FFC060","#BFBF00","#FF00FF","#00FF00","#008000","#994D00","#8C8C8C"]}}
  },
  "layer": [
    {"transform": [{"filter": "!datum.m && datum.s != 'dash'"}], "mark": {"type": "line", "strokeWidth": 2, "clip": true}, "encoding": {"order": {"value": null}}},
    {"transform": [{"filter": "!datum.m && datum.s == 'dash'"}], "mark": {"type": "line", "strokeWidth": 2, "strokeDash": [6, 4], "clip": true}, "encoding": {"order": {"value": null}}},
    {"transform": [{"filter": "datum.m == 1"}], "mark": {"type": "point", "shape": "circle", "filled": false, "size": 110, "strokeWidth": 2, "opacity": 1, "clip": true}}
  ]
}
]
}
